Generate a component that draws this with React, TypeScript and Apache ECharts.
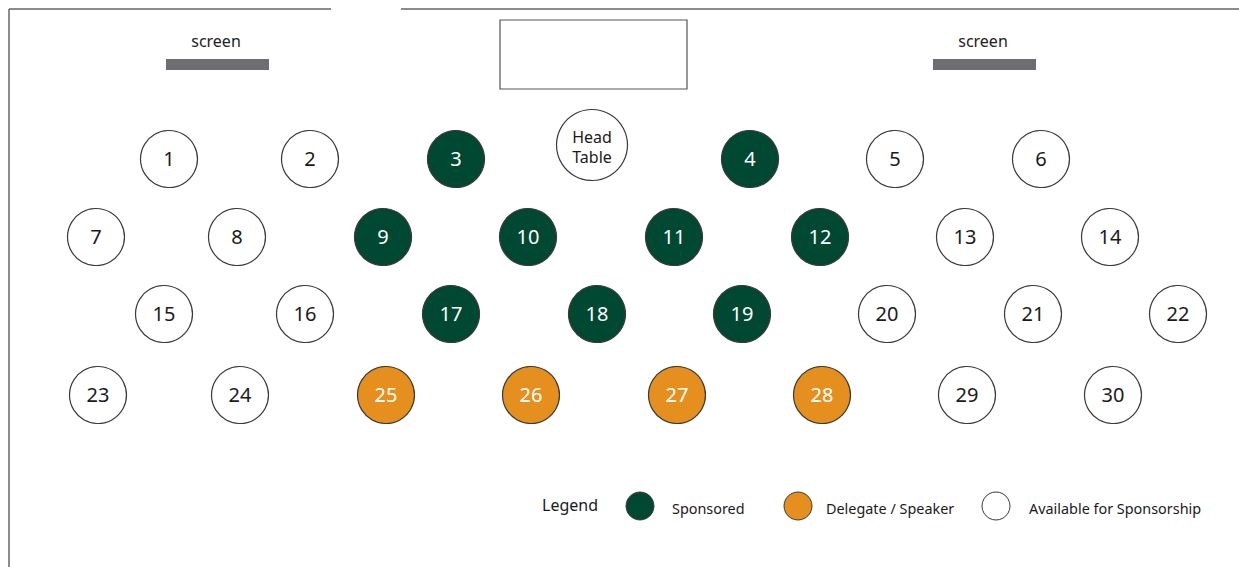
import React, { useEffect, useRef } from "react";
import * as echarts from "echarts";

const tableIds = [
  1, 2, 3, 4, 5, 6,
  7, 8, 9, 10, 11, 12, 13, 14,
  15, 16, 17, 18, 19, 20, 21, 22,
  23, 24, 25, 26, 27, 28, 29, 30,
];
const tableX = [
  169, 310, 456, 750, 895, 1041,
  96, 237, 383, 528, 674, 820, 965, 1110,
  164, 305, 451, 597, 742, 887, 1033, 1178,
  98, 240, 386, 531, 677, 822, 967, 1113,
];
const tableY = [
  159, 159, 159, 159, 159, 159,
  237, 237, 237, 237, 237, 237, 237, 237,
  314, 314, 314, 314, 314, 314, 314, 314,
  395, 395, 395, 395, 395, 395, 395, 395,
];
// S = Sponsored, D = Delegate / Speaker, A = Available
const tableStatus = [
  "A", "A", "S", "S", "A", "A",
  "A", "A", "S", "S", "S", "S", "A", "A",
  "A", "A", "S", "S", "S", "A", "A", "A",
  "A", "A", "D", "D", "D", "D", "A", "A",
];
const headTable = { name: "Head\nTable", x: 592, y: 145 };

const statusNames = ["Sponsored", "Delegate / Speaker", "Available for Sponsorship"];
const statusKeys = ["S", "D", "A"];
const statusColors = ["#004831", "#E58F1E", "#FFFFFF"];
const labelColors = ["#FFFFFF", "#FFFFFF", "#1a1a1a"];

const FONT = "'Noto Sans', sans-serif";

export default function App() {
  const ref = useRef<HTMLDivElement>(null);
  useEffect(() => {
    document.body.style.margin = "0";
    const chart = echarts.init(ref.current!, null, { renderer: "svg" });
    const tableSeries = statusKeys.map((key, si) => ({
      type: "scatter",
      name: statusNames[si],
      symbol: "circle",
      symbolSize: 57,
      itemStyle: { color: statusColors[si], borderColor: "#3a3a3a", borderWidth: 1.2, opacity: 1 },
      label: {
        show: true,
        position: "inside",
        offset: [0, -1],
        formatter: (p: any) => p.name,
        color: labelColors[si],
        fontSize: 20,
        fontFamily: FONT,
      },
      emphasis: { disabled: true },
      data: tableIds
        .map((id, i) => ({ id, i }))
        .filter(({ i }) => tableStatus[i] === key)
        .map(({ id, i }) => ({ name: String(id), value: [tableX[i], tableY[i]] })),
    }));

    const legendItemsX = [640, 798, 996];
    const legendTextX = [672, 826, 1029];
    const legendY = 506;

    chart.setOption({
      animation: false,
      grid: { left: 0, right: 0, top: 0, bottom: 0 },
      xAxis: { type: "value", min: 0, max: 1239, show: false },
      yAxis: { type: "value", min: 0, max: 567, inverse: true, show: false },
      series: [
        ...tableSeries,
        {
          type: "scatter",
          name: "Head Table",
          symbol: "circle",
          symbolSize: 71,
          itemStyle: { color: "#FFFFFF", borderColor: "#3a3a3a", borderWidth: 1.2, opacity: 1 },
          label: {
            show: true,
            position: "inside",
            offset: [0, 2],
            formatter: (p: any) => p.name,
            color: "#1a1a1a",
            fontSize: 16,
            lineHeight: 20,
            fontFamily: FONT,
          },
          emphasis: { disabled: true },
          data: [{ name: headTable.name, value: [headTable.x, headTable.y] }],
        },
      ],
      graphic: [
        // room border
        { type: "line", shape: { x1: 9, y1: 9, x2: 331, y2: 9 }, style: { stroke: "#666", lineWidth: 1.5 } },
        { type: "line", shape: { x1: 401, y1: 9, x2: 1239, y2: 9 }, style: { stroke: "#666", lineWidth: 1.5 } },
        { type: "line", shape: { x1: 9, y1: 9, x2: 9, y2: 567 }, style: { stroke: "#666", lineWidth: 1.5 } },
        // stage
        { type: "rect", shape: { x: 500, y: 20, width: 187, height: 69 }, style: { fill: "#fff", stroke: "#555", lineWidth: 1.2 } },
        // screens
        { type: "rect", shape: { x: 166, y: 59, width: 103, height: 11 }, style: { fill: "#6d6e71" } },
        { type: "rect", shape: { x: 933, y: 59, width: 103, height: 11 }, style: { fill: "#6d6e71" } },
        { type: "text", x: 216, y: 41, style: { text: "screen", fill: "#222", font: `16px ${FONT}`, align: "center", verticalAlign: "middle" } },
        { type: "text", x: 983, y: 41, style: { text: "screen", fill: "#222", font: `16px ${FONT}`, align: "center", verticalAlign: "middle" } },
        // legend
        { type: "text", x: 542, y: 505, style: { text: "Legend", fill: "#1a1a1a", font: `16px ${FONT}`, align: "left", verticalAlign: "middle" } },
        ...statusNames.flatMap((n, i) => [
          {
            type: "circle",
            shape: { cx: legendItemsX[i], cy: legendY, r: 14 },
            style: { fill: statusColors[i], stroke: "#3a3a3a", lineWidth: 1 },
          },
          {
            type: "text",
            x: legendTextX[i],
            y: legendY + 2,
            style: { text: n, fill: "#1a1a1a", font: `14.4px ${FONT}`, align: "left", verticalAlign: "middle" },
          },
        ]),
      ],
    });
    return () => chart.dispose();
  }, []);
  return <div ref={ref} style={{ width: 1239, height: 567 }} />;
}
